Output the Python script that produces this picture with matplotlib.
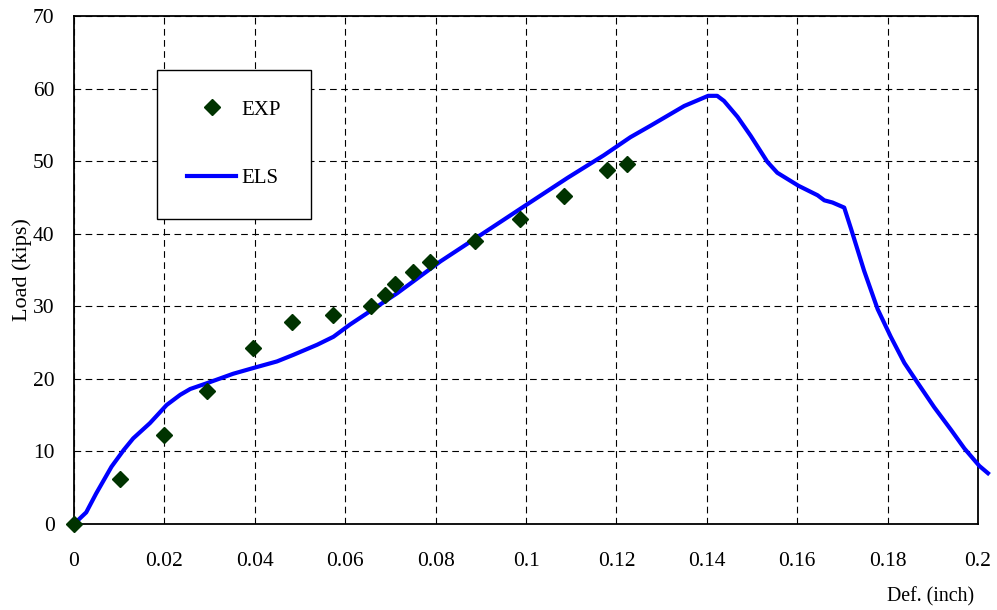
import matplotlib
matplotlib.use("Agg")
import matplotlib.pyplot as plt
from matplotlib.lines import Line2D

plt.rcParams['font.family'] = ['Liberation Serif', 'DejaVu Serif']

# Experimental data (EXP)
exp_def = [0.0, 0.0102, 0.0200, 0.0295, 0.0396, 0.0483, 0.0572, 0.0658, 0.0687,
           0.0711, 0.0751, 0.0788, 0.0888, 0.0986, 0.1085, 0.1180, 0.1223]
exp_load = [0.0, 6.2, 12.3, 18.3, 24.2, 27.9, 28.8, 30.0, 31.5,
            33.1, 34.7, 36.1, 39.0, 42.0, 45.2, 48.8, 49.6]

# Analysis curve (ELS)
els_def = [0.0, 0.0027, 0.0049, 0.0083, 0.0110, 0.0131, 0.0168, 0.0205, 0.0235,
           0.0257, 0.0294, 0.0352, 0.0397, 0.0449, 0.0485, 0.0538, 0.0574, 0.0611,
           0.0715, 0.0811, 0.0899, 0.0994, 0.1092, 0.1172, 0.1231, 0.1276, 0.1350,
           0.1403, 0.1423, 0.1438, 0.1468, 0.1497, 0.1534, 0.1556, 0.1603, 0.1645,
           0.1660, 0.1678, 0.1704, 0.1719, 0.1748, 0.1778, 0.1807, 0.1837, 0.1866,
           0.1903, 0.1940, 0.1970, 0.2003, 0.2022]
els_load = [0.0, 1.6, 4.2, 7.9, 10.2, 11.8, 13.9, 16.4, 17.8,
            18.6, 19.4, 20.7, 21.5, 22.4, 23.3, 24.7, 25.8, 27.5,
            31.8, 36.2, 39.8, 43.7, 47.7, 50.8, 53.3, 54.9, 57.6,
            59.0, 59.0, 58.3, 56.1, 53.5, 49.9, 48.4, 46.6, 45.3,
            44.6, 44.3, 43.6, 40.7, 34.9, 29.6, 25.8, 22.2, 19.5,
            16.1, 13.0, 10.4, 8.0, 7.0]

x_ticks = [0, 0.02, 0.04, 0.06, 0.08, 0.1, 0.12, 0.14, 0.16, 0.18, 0.2]
x_tick_labels = ['0', '0.02', '0.04', '0.06', '0.08', '0.1', '0.12', '0.14', '0.16', '0.18', '0.2']
y_ticks = [0, 10, 20, 30, 40, 50, 60, 70]

fig = plt.figure(figsize=(9.97, 6.10), dpi=100)
ax = fig.add_axes([74/997, 1 - 524/610, (978 - 74)/997, (524 - 16)/610])

ax.plot(els_def, els_load, color='#0000FF', lw=3, zorder=3, clip_on=False,
        solid_joinstyle='round')
ax.plot(exp_def, exp_load, linestyle='none', marker='D', markersize=8,
        color='#003300', zorder=4, clip_on=False)

ax.set_xlim(0, 0.2)
ax.set_ylim(0, 70)
ax.set_xticks(x_ticks)
ax.set_xticklabels(x_tick_labels)
ax.set_yticks(y_ticks)
ax.tick_params(axis='both', length=0, labelsize=15.5, colors='black')
ax.tick_params(axis='x', pad=20)
ax.tick_params(axis='y', pad=14)

ax.grid(True, color='black', linestyle=(0, (6, 4)), linewidth=0.8)
ax.set_axisbelow(True)
for s in ax.spines.values():
    s.set_linewidth(1.3)
    s.set_color('black')

ax.set_ylabel('Load (kips)', fontsize=16)
ax.yaxis.set_label_coords(-0.047, 0.5)
ax.set_xlabel('Def. (inch)', fontsize=14.3)
ax.xaxis.set_label_coords(0.948, -0.125)

handles = [
    Line2D([], [], linestyle='none', marker='D', markersize=8.5, color='#003300'),
    Line2D([], [], color='#0000FF', lw=3),
]
leg = ax.legend(handles, ['EXP', 'ELS'], loc='upper left',
                bbox_to_anchor=((157 - 74)/904, (524 - 70)/508), borderaxespad=0,
                fontsize=15, frameon=True, fancybox=False, edgecolor='black',
                borderpad=1.45, labelspacing=2.35, handlelength=2.35,
                handletextpad=0.25)
leg.get_frame().set_linewidth(1.0)
leg.get_frame().set_alpha(1)

fig.savefig('out.png', dpi=100)
